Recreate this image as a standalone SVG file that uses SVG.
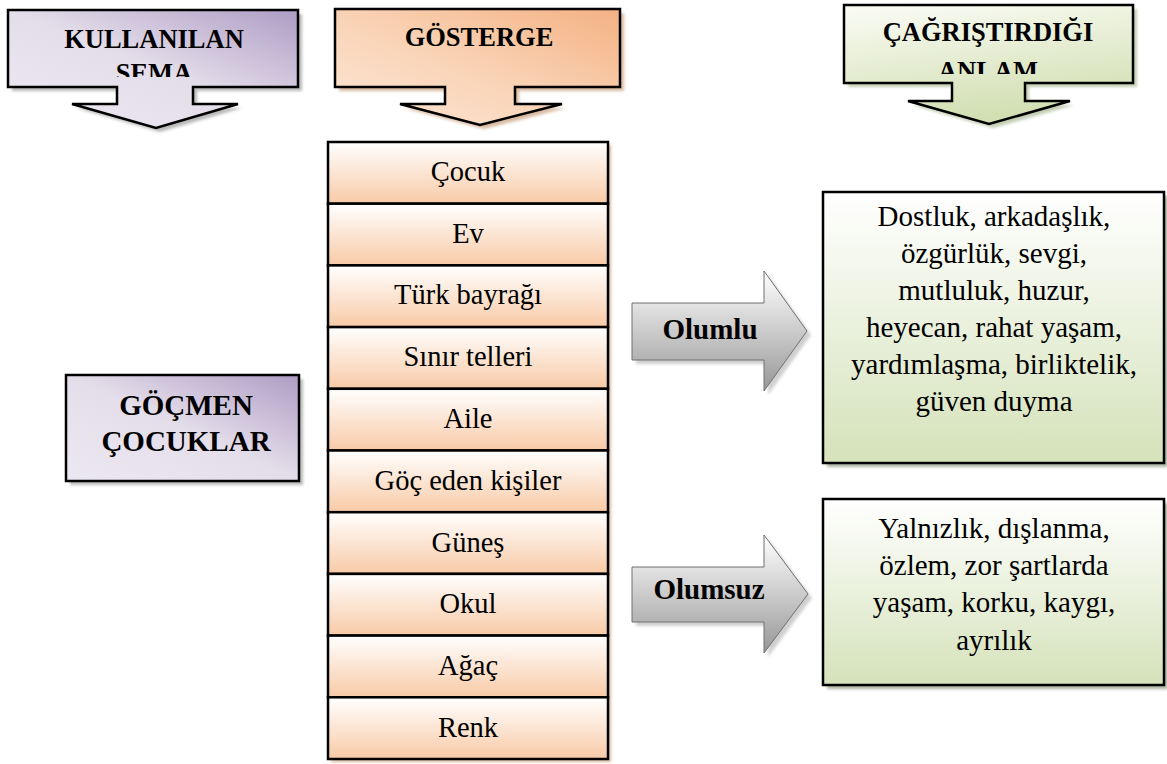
<svg xmlns="http://www.w3.org/2000/svg" width="1167" height="764" viewBox="0 0 1167 764" font-family="Liberation Serif">
<style>
.t{fill:#000;text-anchor:middle}
.out{stroke:#000;stroke-width:2.5;stroke-linejoin:miter}
.arr{stroke:#707070;stroke-width:1}
.sh{filter:url(#blur)}
</style>
<defs>
<filter id="blur" x="-10%" y="-10%" width="120%" height="120%"><feGaussianBlur stdDeviation="1.5"/></filter>
<linearGradient id="gP" x1="1" y1="0" x2="0" y2="1"><stop offset="0" stop-color="#ae9cc4"/><stop offset="0.5" stop-color="#e4deea"/><stop offset="1" stop-color="#ece8f1"/></linearGradient>
<linearGradient id="gO" x1="1" y1="0" x2="0" y2="1"><stop offset="0" stop-color="#f4b183"/><stop offset="0.5" stop-color="#f9d2b4"/><stop offset="1" stop-color="#fde8d8"/></linearGradient>
<linearGradient id="gG" x1="0" y1="0" x2="0.3" y2="1"><stop offset="0" stop-color="#fbfcf6"/><stop offset="1" stop-color="#d2dfb2"/></linearGradient>
<linearGradient id="gR" x1="0" y1="0" x2="0" y2="1"><stop offset="0" stop-color="#ffffff"/><stop offset="1" stop-color="#f8caa6"/></linearGradient>
<linearGradient id="gB" x1="0" y1="0" x2="0" y2="1"><stop offset="0" stop-color="#ffffff"/><stop offset="1" stop-color="#d5e2ba"/></linearGradient>
<linearGradient id="gA" x1="0" y1="0" x2="0" y2="1"><stop offset="0" stop-color="#ffffff"/><stop offset="1" stop-color="#979797"/></linearGradient>
<clipPath id="c1"><rect x="8" y="10" width="290" height="67"/></clipPath>
<clipPath id="c3"><rect x="844" y="5" width="289" height="69"/></clipPath>
</defs>

<g id="header-sema">
<path class="sh" d="M12,14 H302 V91 H197 V108 H242 L160,132 L76,108 H121 V91 H12 Z" fill="#9b9b9b" opacity="0.7"/>
<path class="out" d="M8,10 H298 V87 H193 V104 H238 L156,128 L72,104 H117 V87 H8 Z" fill="url(#gP)"/>
<g font-family="Liberation Serif" font-weight="bold" font-size="26.5">
<text class="t" x="154" y="48">KULLANILAN</text>
<text class="t" x="154" y="82" clip-path="url(#c1)">ŞEMA</text>
</g>
</g>

<g id="header-gosterge">
<path class="sh" d="M339,13 H624 V91 H519 V108 H566 L484,129 L404,108 H449 V91 H339 Z" fill="#c89c78" opacity="0.7"/>
<path class="out" d="M335,9 H620 V87 H515 V104 H562 L480,125 L400,104 H445 V87 H335 Z" fill="url(#gO)"/>
<text class="t" x="479" y="46" font-family="Liberation Serif" font-weight="bold" font-size="26.5">GÖSTERGE</text>
</g>

<g id="header-anlam">
<path class="sh" d="M848,9 H1137 V87 H1029 V105 H1074 L993,128 L912,105 H956 V87 H848 Z" fill="#a9b891" opacity="0.7"/>
<path class="out" d="M844,5 H1133 V83 H1025 V101 H1070 L989,124 L908,101 H952 V83 H844 Z" fill="url(#gG)"/>
<g font-family="Liberation Serif" font-weight="bold" font-size="26.5">
<text class="t" x="988" y="41">ÇAĞRIŞTIRDIĞI</text>
<text class="t" x="988" y="79.5" clip-path="url(#c3)">ANLAM</text>
</g>
</g>

<g id="gocmen">
<rect class="sh" x="70" y="379" width="233" height="106" fill="#9b9b9b" opacity="0.7"/>
<rect class="out" x="66" y="375" width="233" height="106" fill="url(#gP)"/>
<g font-family="Liberation Serif" font-weight="bold" font-size="29">
<text class="t" x="186" y="415">GÖÇMEN</text>
<text class="t" x="186" y="451">ÇOCUKLAR</text>
</g>
</g>

<g id="gosterge-list" font-family="Liberation Serif" font-size="28.5">
<rect class="sh" x="331" y="145" width="280" height="617" fill="#c89c78" opacity="0.7"/>
<g id="row-cocuk"><rect class="out" x="328" y="142" width="280" height="61.7" fill="url(#gR)"/><text class="t" x="468" y="181">Çocuk</text></g>
<g id="row-ev"><rect class="out" x="328" y="203.7" width="280" height="61.7" fill="url(#gR)"/><text class="t" x="468" y="242.5">Ev</text></g>
<g id="row-bayrak"><rect class="out" x="328" y="265.4" width="280" height="61.7" fill="url(#gR)"/><text class="t" x="468" y="304">Türk bayrağı</text></g>
<g id="row-sinir"><rect class="out" x="328" y="327.1" width="280" height="61.7" fill="url(#gR)"/><text class="t" x="468" y="366">Sınır telleri</text></g>
<g id="row-aile"><rect class="out" x="328" y="388.8" width="280" height="61.7" fill="url(#gR)"/><text class="t" x="468" y="428">Aile</text></g>
<g id="row-goc"><rect class="out" x="328" y="450.5" width="280" height="61.7" fill="url(#gR)"/><text class="t" x="468" y="490">Göç eden kişiler</text></g>
<g id="row-gunes"><rect class="out" x="328" y="512.2" width="280" height="61.7" fill="url(#gR)"/><text class="t" x="468" y="551.5">Güneş</text></g>
<g id="row-okul"><rect class="out" x="328" y="573.9" width="280" height="61.7" fill="url(#gR)"/><text class="t" x="468" y="613">Okul</text></g>
<g id="row-agac"><rect class="out" x="328" y="635.6" width="280" height="61.7" fill="url(#gR)"/><text class="t" x="468" y="674.5">Ağaç</text></g>
<g id="row-renk"><rect class="out" x="328" y="697.3" width="280" height="61.7" fill="url(#gR)"/><text class="t" x="468" y="737">Renk</text></g>
</g>

<g id="connectors" font-family="Liberation Serif" font-weight="bold" font-size="29">
<g id="arrow-olumlu">
<path class="sh" d="M636,307 H768 V275 L811,335 L768,395 V364 H636 Z" fill="#b0b0b0" opacity="0.6"/>
<path class="arr" d="M632,303 H764 V271 L807,331 L764,391 V360 H632 Z" fill="url(#gA)"/>
<text class="t" x="710" y="339">Olumlu</text>
</g>
<g id="arrow-olumsuz">
<path class="sh" d="M636,571 H768 V539 L812,598 L768,657 V626 H636 Z" fill="#b0b0b0" opacity="0.6"/>
<path class="arr" d="M632,567 H764 V535 L808,594 L764,653 V622 H632 Z" fill="url(#gA)"/>
<text class="t" x="709" y="599">Olumsuz</text>
</g>
</g>

<g id="olumlu-anlam" font-family="Liberation Serif" font-size="29">
<rect class="sh" x="827" y="196" width="341" height="271" fill="#9aa38a" opacity="0.8"/>
<rect class="out" x="823" y="192" width="341" height="271" fill="url(#gB)"/>
<text class="t" x="994" y="226">Dostluk, arkadaşlık,</text>
<text class="t" x="994" y="263">özgürlük, sevgi,</text>
<text class="t" x="994" y="300">mutluluk, huzur,</text>
<text class="t" x="994" y="337">heyecan, rahat yaşam,</text>
<text class="t" x="994" y="374">yardımlaşma, birliktelik,</text>
<text class="t" x="994" y="411">güven duyma</text>
</g>

<g id="olumsuz-anlam" font-family="Liberation Serif" font-size="29">
<rect class="sh" x="827" y="503" width="341" height="186" fill="#9aa38a" opacity="0.8"/>
<rect class="out" x="823" y="499" width="341" height="186" fill="url(#gB)"/>
<text class="t" x="994" y="538">Yalnızlık, dışlanma,</text>
<text class="t" x="994" y="575">özlem, zor şartlarda</text>
<text class="t" x="994" y="612">yaşam, korku, kaygı,</text>
<text class="t" x="994" y="650">ayrılık</text>
</g>
</svg>
